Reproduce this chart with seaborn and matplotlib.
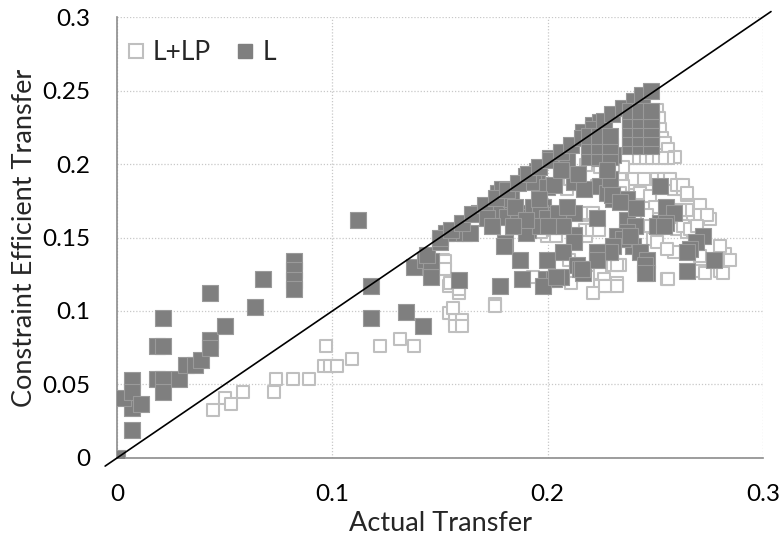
import matplotlib
matplotlib.use("Agg")
import matplotlib.pyplot as plt
from matplotlib.lines import Line2D
import seaborn as sns

# ---------------- data ----------------
series_names = ["L+LP", "L"]

L_x = [0.000, 0.007, 0.007, 0.003, 0.007, 0.007, 0.011, 0.0185, 0.0215, 0.0215,
       0.0185, 0.0215, 0.0215, 0.029, 0.032, 0.036, 0.039, 0.043, 0.043, 0.050,
       0.043, 0.064, 0.068, 0.082, 0.082, 0.082, 0.082, 0.112, 0.118, 0.118,
       0.134, 0.142, 0.138, 0.143, 0.146, 0.146, 0.144, 0.159, 0.150, 0.153,
       0.157, 0.161, 0.164,
       0.168, 0.177, 0.178, 0.181, 0.186, 0.176, 0.181, 0.186, 0.189, 0.180,
       0.178, 0.187, 0.188, 0.1795, 0.179, 0.183, 0.190, 0.195, 0.193, 0.1995,
       0.203, 0.191, 0.190, 0.193, 0.198, 0.198, 0.2026, 0.2026, 0.1965, 0.1995,
       0.1965, 0.201, 0.206, 0.209, 0.212, 0.1995, 0.199, 0.203, 0.206, 0.198,
       0.204, 0.212, 0.212, 0.212, 0.207, 0.2135, 0.2166, 0.215,
       0.2166, 0.221, 0.2243, 0.221, 0.2243, 0.2275, 0.2275, 0.2305, 0.2243,
       0.150, 0.155, 0.160, 0.165, 0.171, 0.176, 0.181, 0.186, 0.191, 0.196,
       0.201, 0.206, 0.211, 0.216, 0.221, 0.226, 0.230, 0.235, 0.240, 0.244,
       0.248,
       0.238, 0.243, 0.248, 0.238, 0.243, 0.248, 0.238, 0.243, 0.248, 0.238,
       0.243, 0.248, 0.238, 0.243, 0.248,
       0.219, 0.224, 0.229, 0.219, 0.224, 0.229, 0.219, 0.224, 0.229,
       0.2243, 0.2275, 0.2305, 0.2336, 0.2367, 0.229, 0.2275, 0.2297, 0.2336,
       0.2367, 0.2405, 0.2336, 0.2367, 0.2398, 0.243, 0.246, 0.232, 0.235, 0.238,
       0.2305, 0.2275, 0.229, 0.2227, 0.2227, 0.2227, 0.246, 0.2452, 0.2452,
       0.252, 0.255, 0.2585, 0.252, 0.255, 0.2507, 0.2538, 0.2723, 0.269, 0.266,
       0.2645, 0.277, 0.2645, 0.216,
       0.185, 0.190, 0.205, 0.207, 0.200, 0.184, 0.172, 0.174, 0.209, 0.196,
       0.241, 0.217, 0.214, 0.206]
L_y = [0.000, 0.019, 0.034, 0.041, 0.053, 0.045, 0.037, 0.054, 0.054, 0.045,
       0.076, 0.076, 0.095, 0.054, 0.063, 0.063, 0.067, 0.080, 0.075, 0.090,
       0.112, 0.103, 0.122, 0.134, 0.128, 0.121, 0.115, 0.162, 0.117, 0.095,
       0.099, 0.090, 0.130, 0.135, 0.123, 0.134, 0.138, 0.121, 0.147, 0.153,
       0.153, 0.153, 0.153,
       0.167, 0.180, 0.169, 0.165, 0.167, 0.167, 0.164, 0.164, 0.158, 0.146,
       0.117, 0.135, 0.122, 0.1445, 0.183, 0.176, 0.192, 0.195, 0.188, 0.1845,
       0.186, 0.155, 0.153, 0.171, 0.171, 0.165, 0.162, 0.158, 0.167, 0.163,
       0.158, 0.204, 0.206, 0.204, 0.188, 0.135, 0.122, 0.122, 0.123, 0.117,
       0.123, 0.167, 0.152, 0.147, 0.140, 0.131, 0.126, 0.1285,
       0.222, 0.2266, 0.2288, 0.2153, 0.213, 0.213, 0.206, 0.206, 0.204,
       0.150, 0.155, 0.160, 0.166, 0.172, 0.177, 0.182, 0.187, 0.193, 0.198,
       0.203, 0.208, 0.213, 0.218, 0.224, 0.229, 0.234, 0.238, 0.243, 0.247,
       0.250,
       0.212, 0.212, 0.212, 0.218, 0.218, 0.218, 0.224, 0.224, 0.224, 0.230,
       0.230, 0.230, 0.236, 0.236, 0.236,
       0.205, 0.205, 0.205, 0.212, 0.212, 0.212, 0.219, 0.219, 0.219,
       0.185, 0.180, 0.176, 0.176, 0.176, 0.190, 0.196, 0.179, 0.174,
       0.162, 0.158, 0.149, 0.1535, 0.1445, 0.140, 0.135, 0.151, 0.149, 0.151,
       0.1445, 0.140, 0.140, 0.140, 0.135, 0.163, 0.126, 0.131, 0.126,
       0.185, 0.171, 0.167, 0.160, 0.160, 0.158, 0.158, 0.151, 0.147, 0.142,
       0.140, 0.135, 0.1275, 0.1285,
       0.171, 0.162, 0.167, 0.158, 0.158, 0.158, 0.163, 0.158, 0.171, 0.176,
       0.170, 0.183, 0.193, 0.196]

LLP_x = [0.000, 0.0447, 0.050, 0.0528, 0.0587, 0.0727, 0.074, 0.0816, 0.0893, 0.097,
         0.0962, 0.099, 0.102, 0.1093, 0.122, 0.1316, 0.138,
         0.154, 0.157, 0.160, 0.157, 0.160, 0.154, 0.159,
         0.1516, 0.1516, 0.1547, 0.159, 0.156, 0.1756, 0.1934, 0.1995, 0.211, 0.211,
         0.216, 0.218, 0.181, 0.1756, 0.200, 0.197, 0.204, 0.210,
         0.209, 0.2227, 0.218, 0.221, 0.2174, 0.2205, 0.2236,
         0.2227, 0.2243, 0.226, 0.2305, 0.2336,
         0.249, 0.2507, 0.2585, 0.2553, 0.2708, 0.280, 0.2824,
         0.2677, 0.2723, 0.2754, 0.2708, 0.2645,
         0.2585, 0.263, 0.2645, 0.260, 0.2645, 0.2676,
         0.2243, 0.229, 0.232, 0.221, 0.2336, 0.240, 0.240, 0.2104,
         0.232, 0.232, 0.2266, 0.243, 0.2475, 0.250, 0.246, 0.2475,
         0.256, 0.2615, 0.2708, 0.2738, 0.263, 0.266, 0.2692,
         0.2708, 0.273, 0.2816, 0.2816, 0.280, 0.2847, 0.2553,
         0.2507, 0.2515, 0.2522, 0.253, 0.2545, 0.256, 0.259, 0.256, 0.253, 0.249,
         0.246, 0.243, 0.240, 0.237, 0.235, 0.2305, 0.2243, 0.218,
         0.240, 0.2445, 0.2507, 0.2538, 0.257, 0.260, 0.263, 0.2645, 0.235, 0.2336,
         0.1523, 0.1523]
LLP_y = [0.000, 0.0327, 0.0406, 0.0367, 0.045, 0.045, 0.054, 0.054, 0.054, 0.0764,
         0.0628, 0.0628, 0.0628, 0.0673, 0.0764, 0.081, 0.0764,
         0.0985, 0.094, 0.094, 0.0898, 0.0898, 0.117, 0.112,
         0.135, 0.131, 0.119, 0.1148, 0.102, 0.105, 0.1228, 0.151, 0.123, 0.119,
         0.1656, 0.151, 0.1695, 0.1034, 0.155, 0.1535, 0.151, 0.135,
         0.183, 0.185, 0.167, 0.167, 0.155, 0.155, 0.155,
         0.131, 0.126, 0.1217, 0.131, 0.131,
         0.149, 0.1467, 0.140, 0.1217, 0.1275, 0.1275, 0.1388,
         0.1627, 0.165, 0.1627, 0.172, 0.169,
         0.183, 0.183, 0.179, 0.156, 0.1535, 0.1535,
         0.117, 0.117, 0.119, 0.1125, 0.190, 0.183, 0.179, 0.190,
         0.131, 0.117, 0.117, 0.180, 0.178, 0.1705, 0.165, 0.158,
         0.1217, 0.169, 0.165, 0.165, 0.158, 0.156, 0.158,
         0.1377, 0.126, 0.126, 0.135, 0.1445, 0.135, 0.142,
         0.2367, 0.231, 0.224, 0.2174, 0.214, 0.2105, 0.205, 0.204, 0.204, 0.204,
         0.204, 0.204, 0.204, 0.204, 0.198, 0.198, 0.198, 0.199,
         0.190, 0.190, 0.190, 0.190, 0.190, 0.186, 0.186, 0.180, 0.185, 0.180,
         0.134, 0.1285]

x_ticks = [0, 0.1, 0.2, 0.3]
x_tick_labels = ["0", "0.1", "0.2", "0.3"]
y_ticks = [0, 0.05, 0.1, 0.15, 0.2, 0.25, 0.3]
y_tick_labels = ["0", "0.05", "0.1", "0.15", "0.2", "0.25", "0.3"]
diag = [-0.0055, 0.3037]

# ---------------- style ----------------
sns.set_style("white")
plt.rcParams["font.family"] = ["Lato", "DejaVu Sans"]

fig, ax = plt.subplots(figsize=(7.83, 5.38), dpi=100)
fig.subplots_adjust(left=0.1494, right=0.9745, bottom=0.1487, top=0.9684)

dark = "#7f7f7f"
light = "#bfbfbf"

sns.scatterplot(x=LLP_x, y=LLP_y, marker="s", s=85, facecolor="white",
                edgecolor=light, linewidth=1.5, ax=ax, zorder=3,
                legend=False)
sns.scatterplot(x=L_x, y=L_y, marker="s", s=125, color=dark,
                edgecolor="#9a9a9a", linewidth=0.8, ax=ax, zorder=4,
                legend=False)

ax.plot(diag, diag, color="black", linewidth=1.2, zorder=5, clip_on=False)

ax.set_xlim(0, 0.3)
ax.set_ylim(0, 0.3)
ax.set_xticks(x_ticks)
ax.set_xticklabels(x_tick_labels)
ax.set_yticks(y_ticks)
ax.set_yticklabels(y_tick_labels)

ax.grid(True, linestyle=(0, (1, 1.5)), color="#c8c8c8", linewidth=0.9)
ax.set_axisbelow(True)
for side in ["top", "right"]:
    ax.spines[side].set_visible(False)
for side in ["left", "bottom"]:
    ax.spines[side].set_color("#8c8c8c")
    ax.spines[side].set_linewidth(1.2)

ax.tick_params(axis="both", which="major", direction="out", length=5,
               width=1.1, color="#8c8c8c", labelsize=17.5, labelcolor="black")
ax.tick_params(axis="x", pad=14)
ax.tick_params(axis="y", pad=14)

ax.set_xlabel("Actual Transfer", fontsize=19.5, labelpad=4)
ax.set_ylabel("Constraint Efficient Transfer", fontsize=19.5, labelpad=4)

handles = [
    Line2D([], [], marker="s", linestyle="", markersize=10,
           markerfacecolor="white", markeredgecolor=light, markeredgewidth=1.5),
    Line2D([], [], marker="s", linestyle="", markersize=10,
           markerfacecolor=dark, markeredgecolor=dark),
]
ax.legend(handles, series_names, loc="upper left", ncol=2, frameon=False,
          fontsize=19, handletextpad=0.15, columnspacing=0.8,
          bbox_to_anchor=(-0.02, 0.99), handlelength=1.0, borderaxespad=0.3)

fig.savefig("out.png", dpi=100)
